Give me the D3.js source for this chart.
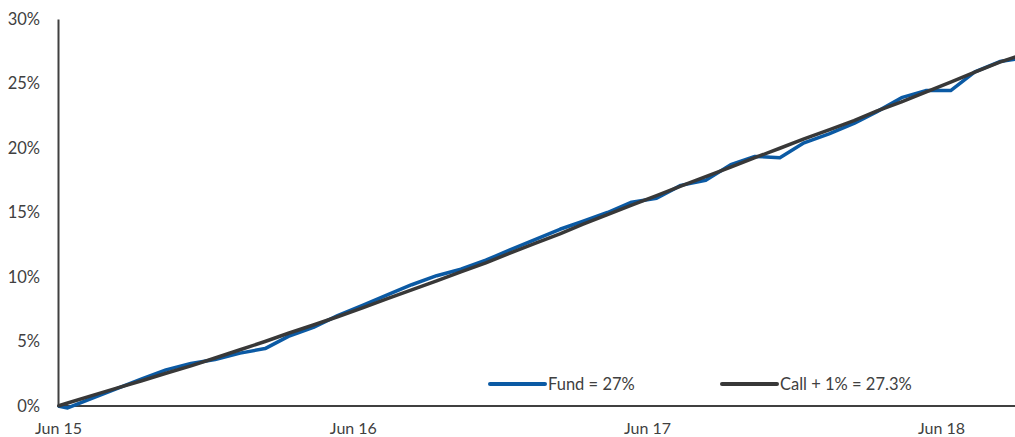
<!DOCTYPE html>
<html>
<head>
<meta charset="utf-8">
<script src="https://cdn.jsdelivr.net/npm/d3@7"></script>
<style>
  html, body { margin: 0; padding: 0; background: #fff; overflow: hidden; }
  svg { display: block; font-family: Lato, 'Open Sans', sans-serif; }
</style>
</head>
<body>
<div id="chart"></div>
<script>
// first entry is the inception point, the rest are monthly readings
var dates = ['2015-06-01',
  '2015-06-13', '2015-07-13', '2015-08-13', '2015-09-13', '2015-10-13', '2015-11-13', '2015-12-13',
  '2016-01-13', '2016-02-13', '2016-03-13', '2016-04-13', '2016-05-13', '2016-06-13',
  '2016-07-13', '2016-08-13', '2016-09-13', '2016-10-13', '2016-11-13', '2016-12-13',
  '2017-01-13', '2017-02-13', '2017-03-13', '2017-04-13', '2017-05-13', '2017-06-13',
  '2017-07-13', '2017-08-13', '2017-09-13', '2017-10-13', '2017-11-13', '2017-12-13',
  '2018-01-13', '2018-02-13', '2018-03-13', '2018-04-13', '2018-05-13', '2018-06-13',
  '2018-07-13', '2018-08-13', '2018-09-13']

var fund = [0,
  -0.15, 0.6, 1.35, 2.1, 2.8, 3.3, 3.6,
  4.1, 4.45, 5.4, 6.1, 7.0, 7.8,
  8.6, 9.4, 10.1, 10.6, 11.3, 12.1,
  12.9, 13.7, 14.3, 15.0, 15.8, 16.1,
  17.1, 17.5, 18.7, 19.35, 19.25, 20.4,
  21.1, 21.9, 22.8, 23.9, 24.45, 24.45,
  25.9, 26.7, 27.0]

var callPlus = [0,
  0.23, 0.81, 1.39, 1.96, 2.54, 3.11, 3.72,
  4.36, 5.00, 5.64, 6.28, 6.92, 7.60,
  8.30, 9.00, 9.70, 10.40, 11.10, 11.85,
  12.60, 13.34, 14.08, 14.83, 15.57, 16.31,
  17.05, 17.78, 18.52, 19.25, 19.98, 20.70,
  21.41, 22.13, 22.85, 23.58, 24.34, 25.11,
  25.88, 26.65, 27.30]

var seriesNames = ['Fund = 27%', 'Call + 1% = 27.3%']
var yTicks = [0, 5, 10, 15, 20, 25, 30]
var xTicks = ['2015-06-01', '2016-06-01', '2017-06-01', '2018-06-01']

var width = 1015
var height = 437
var textColor = '#404040'
var colors = ['#0b5aa4', '#383838']

var parse = d3.timeParse('%Y-%m-%d')

var svg = d3.select('#chart').append('svg')
  .attr('width', width)
  .attr('height', height)

var x = d3.scaleTime()
  .domain([parse('2015-06-01'), parse('2018-06-01')])
  .range([58, 941])

var y = d3.scaleLinear()
  .domain([0, 30])
  .range([406, 19])

// y axis, no tick marks
var yAxis = svg.append('g')
  .attr('transform', 'translate(' + x.range()[0] + ',0)')
  .call(d3.axisLeft(y)
    .tickValues(yTicks)
    .tickSize(0)
    .tickSizeOuter(0)
    .tickPadding(18)
    .tickFormat(d => d + '%'))

yAxis.select('.domain').attr('stroke', textColor).attr('stroke-width', 2)
yAxis.selectAll('text')
  .attr('fill', textColor)
  .style('font-size', '16.5px')
  .style('font-family', 'Lato, sans-serif')

// x axis labels, baseline drawn separately so it runs to the right edge
var xAxis = svg.append('g')
  .attr('transform', 'translate(0,' + y(0) + ')')
  .call(d3.axisBottom(x)
    .tickValues(xTicks.map(parse))
    .tickSize(0)
    .tickSizeOuter(0)
    .tickFormat(d3.timeFormat('%b %y')))

xAxis.select('.domain').remove()
xAxis.selectAll('text')
  .attr('fill', textColor)
  .attr('dy', null)
  .attr('y', 28)
  .style('font-size', '16px')
  .style('font-family', 'Lato, sans-serif')

svg.append('line')
  .attr('x1', x.range()[0] - 1)
  .attr('x2', width)
  .attr('y1', y(0))
  .attr('y2', y(0))
  .attr('stroke', textColor)
  .attr('stroke-width', 2)

var rows = dates.map((d, i) => ({date: parse(d), fund: fund[i], call: callPlus[i]}))

var line = key => d3.line()
  .x(d => x(d.date))
  .y(d => y(d[key]))

svg.append('path')
  .datum(rows)
  .attr('d', line('fund'))
  .attr('fill', 'none')
  .attr('stroke', colors[0])
  .attr('stroke-width', 3.5)
  .attr('stroke-linejoin', 'round')

svg.append('path')
  .datum(rows)
  .attr('d', line('call'))
  .attr('fill', 'none')
  .attr('stroke', colors[1])
  .attr('stroke-width', 3.5)
  .attr('stroke-linejoin', 'round')

// legend
var legendX = [490, 722]
var legend = svg.selectAll('g.legend')
  .data(seriesNames)
  .join('g')
  .attr('class', 'legend')
  .attr('transform', (d, i) => 'translate(' + legendX[i] + ',384)')

legend.append('line')
  .attr('x1', 0)
  .attr('x2', 55)
  .attr('stroke', (d, i) => colors[i])
  .attr('stroke-width', 4)
  .attr('stroke-linecap', 'round')

legend.append('text')
  .attr('x', 58)
  .attr('dy', '0.35em')
  .attr('fill', textColor)
  .style('font-size', '16.5px')
  .text(d => d)
</script>
</body>
</html>
